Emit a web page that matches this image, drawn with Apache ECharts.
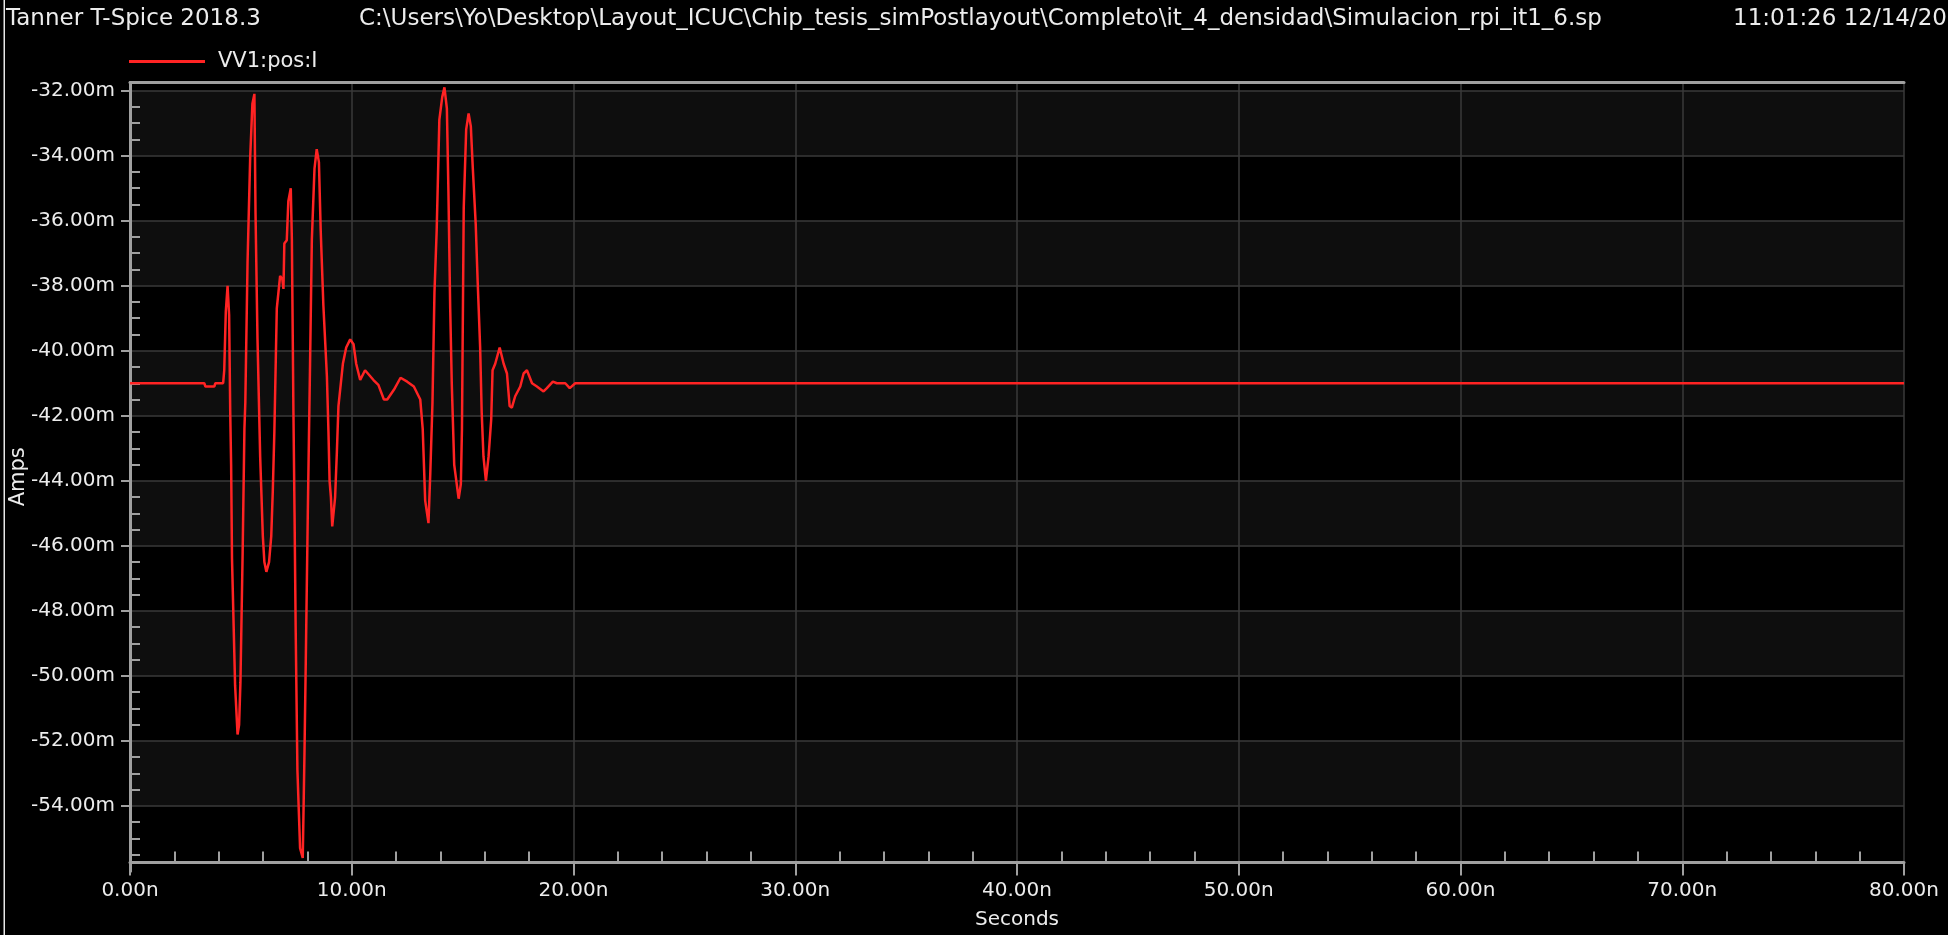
<!DOCTYPE html>
<html>
<head>
<meta charset="utf-8">
<style>
  html, body { margin: 0; padding: 0; background: #000; }
  #chart { width: 1953px; height: 943px; }
</style>
<script src="https://cdn.jsdelivr.net/npm/echarts@6/dist/echarts.min.js"></script>
</head>
<body>
<div id="chart"></div>
<script>
// ---- data (time in ns, current in mA) ----
const timeNs = [0, 3.35, 3.4, 3.8, 3.85, 4.2, 4.25, 4.32, 4.4, 4.47, 4.52, 4.56, 4.6, 4.74, 4.85, 4.92, 4.98, 5.08, 5.16, 5.2,
  5.3, 5.42, 5.52, 5.61, 5.66, 5.75, 5.87, 5.99, 6.06, 6.15, 6.27, 6.37, 6.44, 6.51, 6.62, 6.77, 6.87, 6.92, 6.96, 7.07,
  7.14, 7.25, 7.3, 7.37, 7.42, 7.47, 7.55, 7.67, 7.79, 7.87, 7.94, 8.02, 8.12, 8.2, 8.32, 8.42, 8.52, 8.6, 8.72, 8.88,
  8.95, 9.0, 9.06, 9.12, 9.25, 9.33, 9.4, 9.6, 9.75, 9.93, 10.08, 10.2, 10.38, 10.6, 10.98, 11.2, 11.45, 11.6, 11.9, 12.2,
  12.5, 12.8, 13.09, 13.2, 13.31, 13.46, 13.54, 13.64, 13.73, 13.83, 13.95, 14.08, 14.18, 14.29, 14.36, 14.44, 14.51, 14.62, 14.82, 14.92,
  14.97, 15.05, 15.16, 15.27, 15.37, 15.46, 15.59, 15.68, 15.79, 15.86, 15.94, 16.05, 16.17, 16.29, 16.35, 16.47, 16.67, 16.85, 17.0, 17.12,
  17.22, 17.37, 17.6, 17.75, 17.9, 18.13, 18.35, 18.65, 18.8, 19.07, 19.25, 19.63, 19.83, 20.08, 80];
const currentMA = [-41.0, -41.0, -41.1, -41.1, -41.0, -41.0, -40.6, -38.8, -38.0, -38.9, -41.9, -43.5, -46.4, -50.3, -51.8, -51.5, -50.2, -46.2, -42.4, -41.6,
  -37.3, -34.05, -32.4, -32.1, -35.75, -39.65, -43.25, -45.7, -46.5, -46.8, -46.5, -45.7, -44.3, -42.5, -38.7, -37.7, -37.8, -38.1, -36.7, -36.6,
  -35.4, -35.0, -36.6, -41.9, -45.0, -48.5, -52.9, -55.3, -55.6, -52.3, -48.9, -44.9, -40.4, -36.6, -34.4, -33.8, -34.2, -36.3, -38.6, -40.8,
  -42.5, -44.0, -44.5, -45.4, -44.5, -43.1, -41.7, -40.4, -39.9, -39.65, -39.8, -40.4, -40.9, -40.6, -40.9, -41.05, -41.5, -41.5, -41.2, -40.83,
  -40.95, -41.1, -41.5, -42.4, -44.6, -45.3, -43.8, -41.6, -38.2, -36.3, -32.9, -32.2, -31.9, -32.55, -35.1, -38.7, -41.0, -43.5, -44.55, -44.1,
  -42.4, -35.6, -33.2, -32.7, -33.1, -34.4, -36.1, -37.9, -39.9, -41.9, -43.25, -44.0, -43.25, -42.1, -40.6, -40.4, -39.9, -40.4, -40.7, -41.7,
  -41.75, -41.4, -41.1, -40.7, -40.6, -41.0, -41.1, -41.25, -41.15, -40.95, -41.0, -41.0, -41.15, -41.0, -41.0];
const seriesName = 'VV1:pos:I';
const headerLeft = 'Tanner T-Spice 2018.3';
const headerPath = 'C:\\Users\\Yo\\Desktop\\Layout_ICUC\\Chip_tesis_simPostlayout\\Completo\\it_4_densidad\\Simulacion_rpi_it1_6.sp';
const headerTime = '11:01:26 12/14/20';
const xRange = [0, 80];          // ns
const xStep = 10;
const yRange = [-56, -31.75];    // mA
const yStep = 2;

const FONT = 'DejaVu Sans';
const TXT = '#ececec';
const AXC = '#a0a0a0';
const GRIDC = '#3a3a3a';

const points = timeNs.map((t, i) => [t, currentMA[i]]);

const chart = echarts.init(document.getElementById('chart'), null, { renderer: 'canvas' });
const hdr = (text, pos) => Object.assign({
  text, top: 8, padding: 0,
  textStyle: { color: TXT, fontSize: 23, fontWeight: 'normal', fontFamily: FONT }
}, pos);

chart.setOption({
  backgroundColor: '#000',
  animation: false,
  title: [
    hdr(headerLeft, { left: 6 }),
    hdr(headerPath, { left: 359 }),
    hdr(headerTime, { right: 6 })
  ],
  legend: {
    data: [seriesName],
    left: 129, top: 51, padding: 0,
    icon: 'rect', itemWidth: 76, itemHeight: 3,
    textStyle: { color: TXT, fontSize: 21, fontFamily: FONT, padding: [0, 0, 0, 8] }
  },
  grid: { left: 130, right: 49, top: 82.5, bottom: 72, containLabel: false, outerBoundsMode: 'none' },
  xAxis: [
    {
      type: 'value', min: xRange[0], max: xRange[1], interval: xStep,
      position: 'bottom', offset: -8.5,
      name: 'Seconds', nameLocation: 'middle', nameGap: 47, nameMoveOverlap: false,
      nameTextStyle: { color: TXT, fontSize: 20, fontFamily: FONT },
      axisLine: { show: true, lineStyle: { color: AXC, width: 3 } },
      axisTick: { show: true, length: 13, lineStyle: { color: AXC, width: 2 } },
      axisLabel: { color: TXT, fontSize: 20, fontFamily: FONT, margin: 18,
        formatter: v => v.toFixed(2) + 'n' },
      splitLine: { show: true, lineStyle: { color: GRIDC, width: 1.5 } }
    },
    {
      type: 'value', min: xRange[0], max: xRange[1], interval: xStep,
      position: 'bottom', offset: -8.5,
      axisLine: { show: false },
      axisTick: { show: false, inside: true },
      axisLabel: { show: false },
      splitLine: { show: false },
      minorTick: { show: true, splitNumber: 5, length: 11, lineStyle: { color: AXC, width: 2 } }
    },
    {
      type: 'value', min: xRange[0], max: xRange[1], position: 'top',
      axisLine: { show: true, lineStyle: { color: AXC, width: 3 } },
      axisTick: { show: false }, axisLabel: { show: false }, splitLine: { show: false }
    }
  ],
  yAxis: [
    {
      type: 'value', min: yRange[0], max: yRange[1], interval: yStep, position: 'left',
      name: 'Amps', nameLocation: 'middle', nameGap: 101, nameMoveOverlap: false,
      nameTextStyle: { color: TXT, fontSize: 21, fontFamily: FONT },
      axisLine: { show: true, lineStyle: { color: AXC, width: 3 } },
      axisTick: { show: true, length: 9, lineStyle: { color: AXC, width: 2 } },
      axisLabel: { color: TXT, fontSize: 20, fontFamily: FONT, margin: 15,
        showMinLabel: false, showMaxLabel: false,
        formatter: v => v.toFixed(2) + 'm' },
      splitLine: { show: true, showMinLine: false, lineStyle: { color: GRIDC, width: 1.5 } },
      splitArea: { show: true, areaStyle: { color: ['#000000', '#0e0e0e'] } }
    },
    {
      type: 'value', min: yRange[0], max: yRange[1], interval: yStep, position: 'left',
      axisLine: { show: false },
      axisTick: { show: false, inside: true },
      axisLabel: { show: false },
      splitLine: { show: false },
      minorTick: { show: true, splitNumber: 4, length: 10, lineStyle: { color: AXC, width: 2 } }
    },
    {
      type: 'value', min: yRange[0], max: yRange[1], position: 'right',
      axisLine: { show: true, lineStyle: { color: AXC, width: 3 } },
      axisTick: { show: false }, axisLabel: { show: false }, splitLine: { show: false }
    }
  ],
  series: [{
    name: seriesName,
    type: 'line',
    xAxisIndex: 0, yAxisIndex: 0,
    data: points,
    showSymbol: false,
    symbol: 'none',
    color: '#ff2323',
    lineStyle: { color: '#ff2323', width: 2.5 },
    z: 5
  }],
  graphic: [
    { type: 'rect', left: 0, top: 935, shape: { width: 1953, height: 8 }, style: { fill: '#ffffff' }, silent: true },
    { type: 'rect', left: 1948, top: 0, shape: { width: 5, height: 943 }, style: { fill: '#ffffff' }, silent: true },
    { type: 'rect', left: 3.5, top: 0, shape: { width: 1.5, height: 935 }, style: { fill: '#e8e8e8' }, silent: true }
  ]
});
</script>
</body>
</html>
